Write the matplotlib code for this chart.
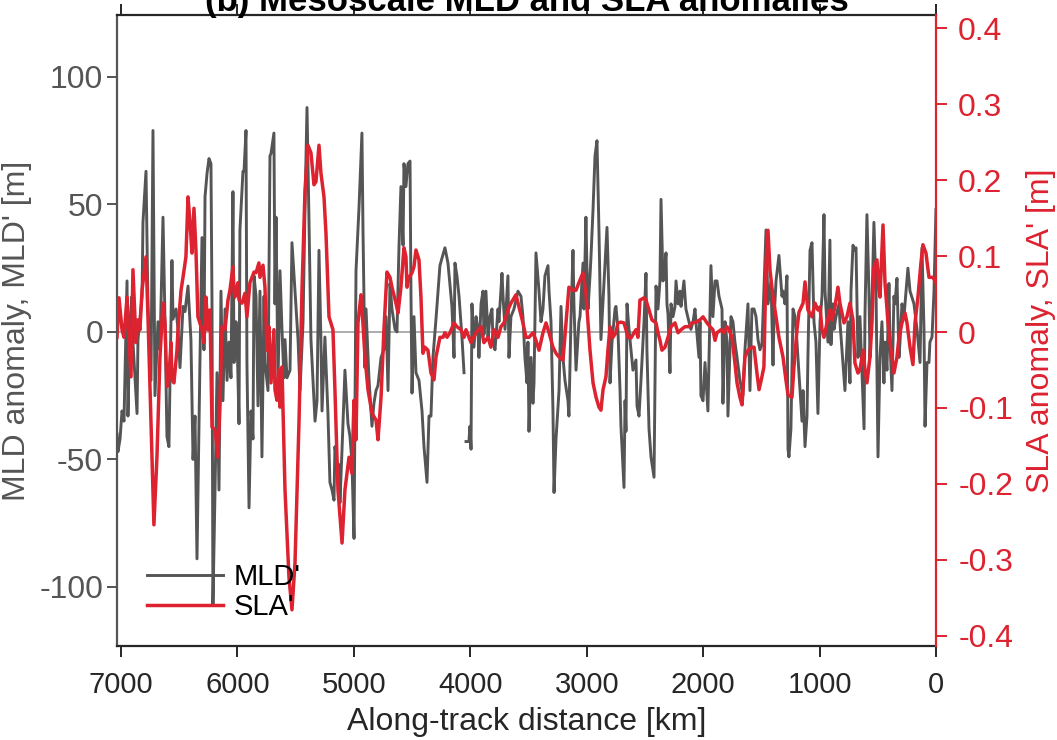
import numpy as np
import matplotlib
matplotlib.use('Agg')
import matplotlib.pyplot as plt

# MLD anomaly along track (km, m); nan = gap in the data
mld_km = [7035, 7027, 7009, 6992, 6975, 6949, 6941, 6924, 6906, 6898, 6863, 6855, 6820, 6812, 6786,
          6769, 6743, 6726, 6709, 6683, 6666, 6640, 6623, 6606, 6589, 6563, 6554, 6528, 6511, 6494,
          6468, 6451, 6425, 6400, 6382, 6365, 6348, 6322, 6305, 6288, 6279, 6262, 6245, 6228, 6219,
          6211, 6193, 6176, 6159, 6142, 6125, 6107, 6090, 6073, 6056, 6039, 6030, 6013, 6004, 5987,
          5979, 5953, 5944, 5927, 5919, 5901, 5884, 5867, 5858, 5841, 5824, 5807, 5790, 5772, 5764,
          5738, 5721, 5712, 5687, 5678, 5669, 5652, 5635, 5618, 5601, 5592, 5575, 5549, 5532, 5506,
          5480, 5463, 5437, 5420, 5403, 5386, 5369, 5334, 5317, 5300, 5283, 5274, 5249, 5223, 5206,
          5188, 5171, 5163, 5145, 5128, 5120, 5102, 5077, 5051, 5034, 5017, 4999, 4982, 4956, 4931,
          4922, 4905, 4896, 4871, 4845, 4828, 4810, 4793, 4767, 4742, 4724, 4707, 4690, 4673, 4647,
          4630, 4613, 4596, 4578, 4570, 4553, 4536, 4518, 4510, 4501, 4484, 4467, 4441, 4415, 4398,
          4372, 4355, 4338, 4321, 4295, 4261, 4243, 4218, 4192, 4158, 4140, 4132, 4115, 4097, 4072,
          4054, 4045, 4037, 4012, 4003, 3994, 3986, 3969, 3951, 3934, 3926, 3908, 3891, 3883, 3866,
          3848, 3831, 3814, 3805, 3788, 3762, 3754, 3728, 3719, 3702, 3677, 3668, 3651, 3625, 3591,
          3565, 3548, 3531, 3513, 3505, 3496, 3479, 3462, 3453, 3436, 3410, 3393, 3376, 3359, 3333,
          3324, 3307, 3290, 3281, 3264, 3238, 3221, 3204, 3187, 3161, 3153, 3135, 3118, 3110, 3092,
          3067, 3058, 3032, 3024, 3007, 2998, 2989, 2972, 2964, 2946, 2929, 2912, 2895, 2878, 2852,
          2826, 2809, 2800, 2783, 2757, 2749, 2732, 2714, 2706, 2680, 2671, 2663, 2654, 2637, 2620,
          2603, 2577, 2568, 2551, 2534, 2508, 2491, 2483, 2465, 2448, 2422, 2405, 2388, 2371, 2362,
          2345, 2336, 2319, 2311, 2302, 2285, 2276, 2259, 2242, 2233, 2216, 2199, 2190, 2165, 2148,
          2122, 2105, 2087, 2070, 2062, 2036, 2027, 2019, 2001, 1984, 1959, 1933, 1916, 1898, 1881,
          1864, 1838, 1830, 1812, 1795, 1787, 1761, 1744, 1727, 1709, 1684, 1658, 1641, 1615, 1598,
          1581, 1563, 1546, 1529, 1512, 1495, 1486, 1460, 1443, 1417, 1400, 1392, 1374, 1349, 1323,
          1314, 1297, 1280, 1271, 1263, 1246, 1228, 1211, 1194, 1168, 1151, 1142, 1125, 1108, 1100,
          1082, 1065, 1048, 1031, 1014, 996, 979, 962, 953, 928, 911, 902, 885, 876, 859,
          833, 825, 799, 782, 756, 739, 730, 713, 696, 687, 670, 653, 636, 618, 610,
          593, 576, 567, 550, 533, 515, 498, 481, 464, 447, 438, 421, 404, 395, 378,
          361, 352, 335, 318, 309, 292, 275, 241, 223, 189, 163, 137, 120, 103, 94,
          77, 60, 52, 34, 17, 0]
mld_val = [-40, -47, -42, -31, -35, 20, -33, 4, 14, -4, -32, -3, 14, 43, 63,
           10, -19, 79, -25, 4, -7, 45, 5, -41, -45, 28, 5, 9, 1, -14,
           10, 8, 18, -3, -50, -33, -89, -10, 37, -7, 53, 62, 68, 66, 11,
           -107, -62, -16, -62, 16, -27, 9, -19, -4, -18, 55, -12, 4, -2, -36,
           40, 63, 63, 79, -12, -69, -31, -42, 22, 14, -29, 16, -49, 14, -12,
           -23, 69, 70, 78, 11, 45, -20, 24, 1, -18, -3, -18, -15, 35, 16,
           -3, -23, 4, 49, 88, 44, -3, -35, -27, 32, -4, -31, -2, -32, -59,
           -62, -66, -45, -52, -52, -67, -46, -15, -36, -41, -51, -81, 24, 49, 78,
           40, -14, 9, -18, -37, -28, -23, -21, -10, -7, 6, -23, 19, 9, 1,
           0, 33, 57, 34, 66, 57, 66, 67, 16, -24, 6, -16, -19, -31, -45,
           -59, -33, -33, -10, 5, 26, 29, 33, 27, 10, -10, 27, 22, 14, -2,
           -16, np.nan, -43, -43, -37, -46, 11, -6, 6, 1, -10, 11, 16, -1, 16,
           -2, 6, 9, -4, -7, 9, 4, 23, 14, 1, 22, -10, 6, 9, 16,
           14, 6, -10, -20, -4, -39, -10, -28, -20, 31, 16, 4, 9, 22, 26,
           16, 4, -31, -63, -42, -23, 10, -10, -19, -27, -33, 6, 32, 11, -15,
           4, 6, 27, 9, 45, 24, 9, 22, 29, 48, 69, 75, 40, -3, 19,
           41, 14, -20, -4, 9, 10, 1, -23, -37, -61, -27, -39, 11, 1, -7,
           -15, -11, -29, -33, -19, 4, 23, -7, -38, -49, -57, 18, 9, 20, 52,
           20, 21, 31, 11, 7, -16, 11, 6, 10, 20, 11, 16, 10, 20, 9,
           4, 1, 4, 9, 4, -10, 4, -25, -27, -12, -31, 26, 6, 20, 20,
           14, 9, -28, 4, -4, -33, 6, 4, -4, -10, -19, -25, -7, 11, -23,
           9, 9, 6, -3, -7, -5, 6, 40, 11, 20, -13, 4, 20, 30, 14,
           16, 11, 22, -46, -49, -38, 9, 6, -4, -23, -35, -23, -45, -33, -10,
           32, 35, 4, -4, -32, 4, 14, 46, 16, -4, 36, -5, 11, 1, 6,
           11, 4, -12, -23, 4, -20, 16, 34, 32, 33, -10, 6, -15, -38, 6,
           46, 16, -10, 11, 43, 16, -49, -10, 4, -20, -4, -15, 19, -4, -23,
           14, 11, 21, -10, -4, 11, 6, 25, 16, 11, 1, -12, 33, 1, -37,
           -12, -12, -4, -2, 16, 48]

# SLA anomaly along track (km, m)
sla_km = [7035, 7018, 6992, 6975, 6949, 6941, 6915, 6898, 6872, 6855, 6838, 6820, 6786, 6769, 6743,
          6718, 6692, 6666, 6640, 6623, 6606, 6589, 6571, 6563, 6546, 6520, 6511, 6485, 6468, 6443,
          6425, 6408, 6391, 6374, 6357, 6340, 6305, 6288, 6271, 6254, 6236, 6219, 6193, 6168, 6150,
          6133, 6107, 6082, 6065, 6039, 6030, 6022, 5996, 5987, 5961, 5936, 5919, 5893, 5858, 5841,
          5816, 5807, 5781, 5764, 5747, 5730, 5712, 5687, 5678, 5661, 5644, 5635, 5618, 5592, 5558,
          5532, 5506, 5472, 5446, 5420, 5395, 5369, 5343, 5326, 5300, 5283, 5257, 5240, 5214, 5188,
          5180, 5163, 5137, 5102, 5077, 5042, 5017, 4999, 4982, 4965, 4939, 4931, 4905, 4879, 4845,
          4810, 4793, 4767, 4742, 4716, 4690, 4673, 4639, 4621, 4596, 4570, 4553, 4544, 4527, 4501,
          4484, 4467, 4441, 4424, 4407, 4390, 4364, 4338, 4312, 4295, 4261, 4235, 4218, 4200, 4175,
          4140, 4115, 4080, 4054, 4037, 3994, 3951, 3908, 3883, 3848, 3823, 3797, 3762, 3737, 3711,
          3677, 3651, 3608, 3582, 3548, 3522, 3496, 3462, 3436, 3410, 3376, 3350, 3324, 3290, 3264,
          3238, 3204, 3178, 3153, 3118, 3092, 3067, 3032, 3007, 2989, 2972, 2946, 2920, 2895, 2878,
          2860, 2835, 2818, 2800, 2775, 2749, 2732, 2706, 2680, 2663, 2646, 2620, 2594, 2577, 2560,
          2543, 2508, 2491, 2465, 2440, 2405, 2388, 2371, 2354, 2328, 2302, 2276, 2242, 2216, 2190,
          2156, 2122, 2096, 2062, 2027, 2001, 1967, 1941, 1916, 1898, 1881, 1847, 1821, 1795, 1778,
          1752, 1727, 1709, 1684, 1666, 1641, 1615, 1581, 1563, 1538, 1520, 1495, 1478, 1460, 1443,
          1426, 1400, 1374, 1349, 1314, 1289, 1271, 1237, 1220, 1194, 1177, 1142, 1125, 1100, 1065,
          1039, 1014, 996, 979, 962, 936, 911, 893, 868, 842, 825, 790, 765, 739, 713,
          696, 670, 653, 627, 610, 593, 567, 550, 533, 507, 490, 481, 455, 438, 412,
          395, 378, 361, 335, 318, 292, 266, 249, 223, 198, 180, 155, 129, 112, 86,
          60, 26, 0]
sla_val = [-0.007, 0.045, 0.003, -0.007, 0.046, 0.016, -0.059, 0.082, -0.014, 0.016, 0.003, 0.055, 0.099, 0.020, -0.120,
           -0.254, -0.165, -0.033, 0.038, 0.012, -0.072, -0.059, -0.014, -0.063, -0.067, -0.024, 0.003, 0.055, 0.072, 0.099,
           0.178, 0.144, 0.104, 0.163, 0.108, 0.020, 0.003, -0.014, 0.046, 0.003, 0.029, -0.125, -0.129, -0.165, -0.090,
           0.007, 0.003, 0.042, 0.055, 0.086, 0.055, 0.046, 0.065, 0.042, 0.038, 0.051, 0.020, 0.065, 0.079, 0.078,
           0.091, 0.072, 0.088, 0.059, -0.024, 0.007, -0.067, 0.003, -0.076, -0.090, -0.050, -0.099, -0.046, -0.208, -0.323,
           -0.366, -0.304, -0.120, 0.055, 0.187, 0.246, 0.236, 0.194, 0.198, 0.246, 0.209, 0.178, 0.130, 0.020, 0.007,
           0.003, -0.076, -0.208, -0.278, -0.208, -0.165, -0.186, -0.090, -0.142, 0.012, 0.049, 0.033, -0.033, -0.076, -0.107,
           -0.116, -0.142, -0.086, 0.003, 0.079, 0.072, 0.059, 0.038, 0.025, 0.059, 0.111, 0.099, 0.059, 0.072, 0.078,
           0.086, 0.108, 0.095, 0.046, -0.028, -0.020, -0.024, -0.054, -0.063, -0.033, -0.007, -0.007, -0.001, -0.007, -0.001,
           0.012, 0.007, 0.003, -0.007, 0.003, -0.014, -0.001, 0.007, -0.014, -0.007, -0.020, 0.003, -0.007, 0.007, 0.012,
           0.029, 0.038, 0.049, 0.033, 0.012, -0.007, -0.007, -0.001, -0.011, -0.024, -0.001, 0.012, -0.001, -0.020, -0.028,
           -0.033, -0.037, 0.012, 0.059, 0.055, 0.055, 0.065, 0.078, 0.051, 0.012, -0.024, -0.067, -0.086, -0.099, -0.103,
           -0.076, -0.059, -0.024, 0.007, -0.007, -0.001, 0.012, 0.013, 0.012, 0.003, -0.007, -0.008, -0.001, 0.003, -0.007,
           0.042, 0.045, 0.042, 0.029, 0.016, 0.012, -0.001, -0.011, -0.024, -0.020, -0.007, 0.007, 0.012, -0.001, 0.003,
           0.007, 0.007, 0.012, 0.013, 0.016, 0.020, 0.012, 0.007, 0.003, -0.011, -0.001, 0.003, -0.001, 0.007, 0.003,
           -0.007, -0.041, -0.067, -0.086, -0.096, -0.033, -0.024, -0.020, -0.020, -0.054, -0.076, -0.059, -0.046, 0.091, 0.134,
           0.082, 0.046, 0.020, -0.007, -0.033, -0.063, -0.083, -0.086, -0.046, 0.003, 0.026, 0.038, 0.066, 0.029, 0.020,
           0.038, 0.029, 0.033, 0.003, -0.007, 0.012, 0.029, 0.016, 0.033, 0.059, 0.038, 0.012, 0.020, 0.038, 0.016,
           -0.041, -0.054, -0.050, -0.024, -0.050, -0.067, -0.033, 0.012, 0.086, 0.095, 0.055, 0.046, 0.141, 0.065, 0.012,
           -0.014, -0.033, -0.054, -0.033, -0.007, 0.012, 0.025, 0.012, -0.020, -0.043, 0.012, 0.046, 0.091, 0.115, 0.104,
           0.072, 0.072, 0.065]

x_ticks = [7000, 6000, 5000, 4000, 3000, 2000, 1000, 0]
mld_ticks = [-100, -50, 0, 50, 100]
sla_ticks = [-0.4, -0.3, -0.2, -0.1, 0, 0.1, 0.2, 0.3, 0.4]
sla_ticklabels = ['-0.4', '-0.3', '-0.2', '-0.1', '0', '0.1', '0.2', '0.3', '0.4']

GREY = '#555555'
RED = '#dd2230'

plt.rcParams['font.family'] = ['Liberation Sans', 'DejaVu Sans']
plt.rcParams['axes.unicode_minus'] = False
FS = 23

fig = plt.figure(figsize=(10.57, 7.40), dpi=100)
ax = fig.add_axes([0.1107, 0.127, 0.7748, 0.8527])
ax2 = ax.twinx()

ax.axhline(0, color='#a6a6a6', lw=1.3, zorder=1)
l1, = ax.plot(mld_km, mld_val, color=GREY, lw=2.1, label="MLD'", zorder=2)
l2, = ax2.plot(sla_km, sla_val, color=RED, lw=2.5, label="SLA'")

ax.set_xlim(7035, 0)
ax.set_ylim(-123.2, 124.3)
ax2.set_ylim(-0.4137, 0.4176)

ax.set_xticks(x_ticks)
ax.set_xticklabels([str(t) for t in x_ticks])
ax.set_yticks(mld_ticks)
ax.set_yticklabels([str(t) for t in mld_ticks])
ax2.set_yticks(sla_ticks)
ax2.set_yticklabels(sla_ticklabels)

ax.tick_params(axis='x', direction='out', length=8, width=1.4, top=True,
               labelsize=21, colors='#262626', pad=10)
ax.tick_params(axis='y', direction='out', length=7, width=1.4,
               labelsize=FS, colors=GREY, pad=3)
ax2.tick_params(axis='y', direction='out', length=8, width=1.4,
                labelsize=FS, colors=RED, pad=8)

for s in ['top', 'bottom']:
    ax.spines[s].set_color('#262626')
    ax.spines[s].set_linewidth(1.6)
ax.spines['left'].set_color(GREY)
ax.spines['left'].set_linewidth(1.6)
ax.spines['right'].set_visible(False)
for s in ['left', 'top', 'bottom']:
    ax2.spines[s].set_visible(False)
ax2.spines['right'].set_color(RED)
ax2.spines['right'].set_linewidth(1.6)

ax.set_xlabel('Along-track distance [km]', fontsize=FS, color='#262626', labelpad=6)
ax.set_ylabel("MLD anomaly, MLD' [m]", fontsize=FS, color=GREY, labelpad=5)
ax2.set_ylabel("SLA anomaly, SLA' [m]", fontsize=FS, color=RED, labelpad=9)

fig.text(0.4985, 1 - 11 / 740, '(b) Mesoscale MLD and SLA anomalies', fontsize=25,
         fontweight='bold', ha='center', va='baseline')

ax2.legend(handles=[l1, l2], loc='lower left', bbox_to_anchor=(0.037, 0.04),
           frameon=False, fontsize=21, handlelength=2.6, handletextpad=0.35,
           labelspacing=0.05, borderaxespad=0, borderpad=0)

fig.savefig('out.png', dpi=100)
